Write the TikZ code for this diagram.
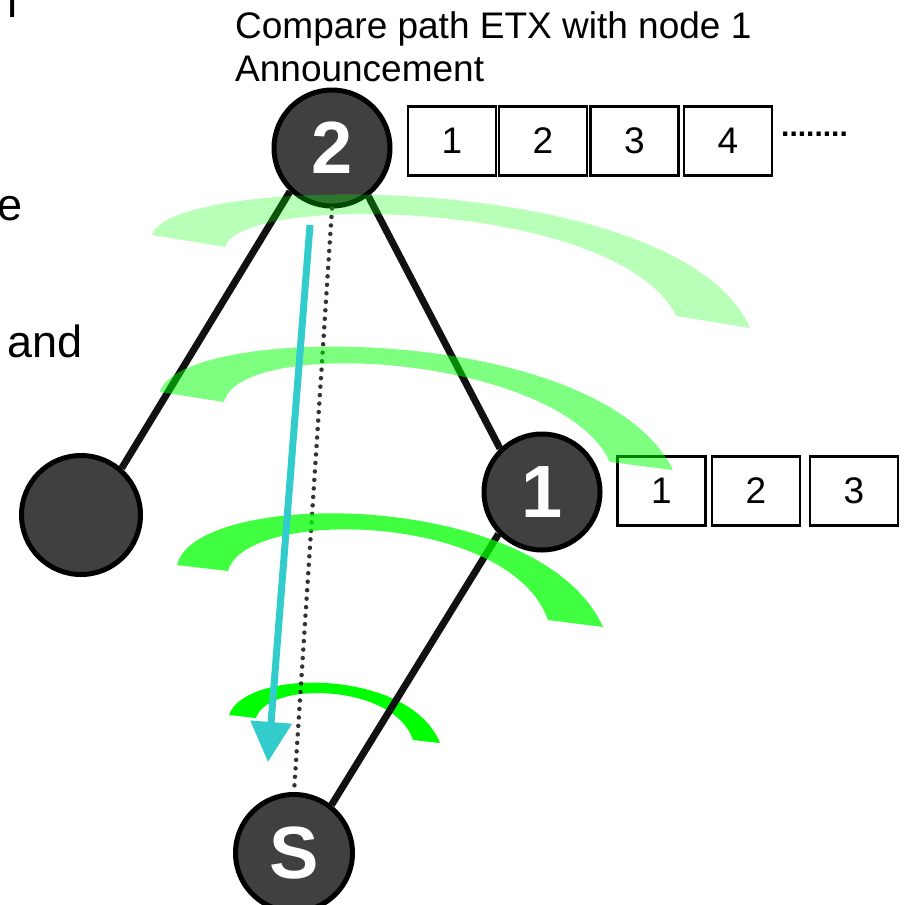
\documentclass[tikz,border=0pt]{standalone}
\usepackage{fontspec}
\setmainfont{Liberation Sans}
\usetikzlibrary{arrows.meta}

\definecolor{nodegray}{HTML}{404040}
\definecolor{edgeblack}{HTML}{111111}
\definecolor{cyanarrow}{HTML}{33CCCC}
\definecolor{wavegreen}{HTML}{00FF00}
\definecolor{dotgray}{HTML}{333333}

\begin{document}
\begin{tikzpicture}[x=1pt,y=-1pt,
  router/.style={circle, draw=black, line width=5pt, fill=nodegray,
    minimum size=116pt, inner sep=0pt, text=white,
    font=\fontsize{74}{74}\selectfont\bfseries},
  link/.style={draw=edgeblack, line width=7pt},
  slot/.style={draw=black, line width=2.2pt, fill=white, minimum width=88pt,
    minimum height=69pt, inner sep=0pt, font=\fontsize{37}{37}\selectfont},
  wave/.style={fill=wavegreen, draw=none},
  bigtext/.style={inner sep=0pt, font=\fontsize{37}{43}\selectfont},
  sidetext/.style={inner sep=0pt, anchor=base east, font=\fontsize{45}{50}\selectfont},
]
\useasboundingbox (0,0) rectangle (903,905);
\clip (0,0) rectangle (903,905);

% clipped words of the side text
\node[sidetext] (sn) at (18,17) {n};
\node[sidetext] (se) at (23,220) {e};
\node[sidetext] (sand) at (83,357) {and};

% heading
\node[bigtext, anchor=base west] (head1) at (235,38) {Compare path ETX with node 1};
\node[bigtext, anchor=base west] (head2) at (235,81) {Announcement};

% innermost (solid) wave, below the links
\fill[wave] (229,715) .. controls (245,668) and (410,668) .. (440,743)
  -- (413,740) .. controls (395,684) and (268,680) .. (256,718) -- cycle;

% routers
\node[router] (n2) at (332,148) {2};
\node[router] (n1) at (542,492) {1};
\node[router, minimum size=119pt] (nl) at (81,515) {};
\node[router, minimum size=117pt] (S) at (294,853) {S};

% links
\draw[link] (n2.226) -- (nl.49);
\draw[link] (n2.-53) -- (n1.134);
\draw[link] (n1.224) -- (S.52);

% path of the announcement
\draw[dotgray, line width=4.5pt, line cap=round, dash pattern=on 0pt off 8.5pt]
  (n2.south) -- (S.north);

% slot rows
\node[slot] (a1) at (452,141) {1};
\node[slot] (a2) at (543,141) {2};
\node[slot] (a3) at (634.5,141) {3};
\node[slot] (a4) at (728,141) {4};
\node[inner sep=0pt, anchor=base west, font=\fontsize{30}{30}\selectfont\bfseries] (more) at (781,136) {........};

\node[slot] (b1) at (661.5,491) {1};
\node[slot] (b2) at (756,491) {2};
\node[slot] (b3) at (854,491) {3};

% fading waves, drawn over the graph
\fill[wave, fill opacity=0.75] (177,565) .. controls (195,488) and (540,488) .. (603,627)
  -- (548,620) .. controls (510,512) and (245,507) .. (228,571) -- cycle;
\fill[wave, fill opacity=0.5] (160,392) .. controls (180,322) and (600,322) .. (673,470)
  -- (610,462) .. controls (560,355) and (240,335) .. (224,402) -- cycle;
\fill[wave, fill opacity=0.28] (152,235) .. controls (170,172) and (680,168) .. (750,328)
  -- (676,316) .. controls (620,200) and (240,192) .. (225,247) -- cycle;

% comparison arrow
\coordinate (cstart) at (310,225);
\coordinate (ctip) at (268,762);
\draw[cyanarrow, line width=7pt, -{Triangle[width=40pt,length=40pt]}] (cstart) -- (ctip);
\end{tikzpicture}
\end{document}
